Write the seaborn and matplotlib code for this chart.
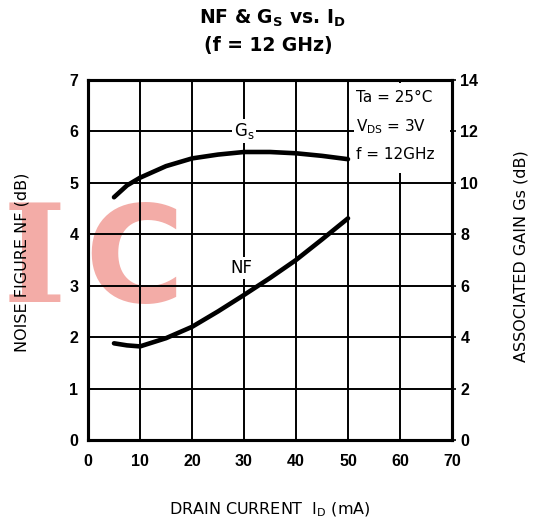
import numpy as np
import pandas as pd
import matplotlib
matplotlib.use("Agg")
import matplotlib.pyplot as plt
import seaborn as sns

# Data (f = 12 GHz)
id_ma = [5, 7.5, 10, 15, 20, 25, 30, 35, 40, 45, 50]
nf_db = [1.88, 1.84, 1.82, 1.98, 2.2, 2.5, 2.82, 3.15, 3.5, 3.9, 4.31]
gs_db = [9.44, 9.9, 10.2, 10.65, 10.95, 11.1, 11.2, 11.2, 11.15, 11.05, 10.92]

x_ticks = [0, 10, 20, 30, 40, 50, 60, 70]
nf_ticks = [0, 1, 2, 3, 4, 5, 6, 7]
gs_ticks = [0, 2, 4, 6, 8, 10, 12, 14]

df = pd.DataFrame({"id": id_ma, "nf": nf_db, "gs": gs_db})

sns.set_style("white")
plt.rcParams["font.family"] = ["Liberation Sans", "DejaVu Sans"]
plt.rcParams["mathtext.fontset"] = "custom"
plt.rcParams["mathtext.rm"] = "DejaVu Sans"
plt.rcParams["mathtext.bf"] = "DejaVu Sans:bold"
for key in ["text.color", "axes.labelcolor", "xtick.color", "ytick.color", "axes.edgecolor"]:
    plt.rcParams[key] = "black"

W, H = 539, 524
fig = plt.figure(figsize=(W / 100, H / 100), dpi=100)
ax = fig.add_axes([88 / W, (H - 440) / H, (452 - 88) / W, 360 / H])
ax.set_facecolor("none")

ax.set_xlim(0, 70)
ax.set_ylim(0, 7)
ax.set_xticks(x_ticks)
ax.set_yticks(nf_ticks)
ax.grid(True, color="black", linewidth=1.4)
for s in ax.spines.values():
    s.set_linewidth(2.2)
    s.set_color("black")
ax.tick_params(axis="x", length=0, labelsize=11.5, pad=10)
ax.tick_params(axis="y", length=0, labelsize=11.5, pad=7)
for lab in ax.get_xticklabels() + ax.get_yticklabels():
    lab.set_fontweight("bold")

ax2 = ax.twinx()
ax2.set_ylim(0, 14)
ax2.set_yticks(gs_ticks)
ax2.tick_params(axis="y", length=3, width=1.2, labelsize=11.5, pad=3)
for lab in ax2.get_yticklabels():
    lab.set_fontweight("bold")
for s in ax2.spines.values():
    s.set_linewidth(2.2)

sns.lineplot(data=df, x="id", y="nf", ax=ax, color="black", linewidth=3.3)
sns.lineplot(data=df, x="id", y="gs", ax=ax2, color="black", linewidth=3.3)
ax.set_xlabel("")
ax.set_ylabel("")
ax2.set_ylabel("")

# curve labels
ax.text(30, 6.0, r"G$_\mathregular{s}$", ha="center", va="center", fontsize=12, family="DejaVu Sans",
        bbox=dict(facecolor="white", edgecolor="none", pad=1.5))
ax.text(29.5, 3.35, "NF", ha="center", va="center", fontsize=12, family="DejaVu Sans",
        bbox=dict(facecolor="white", edgecolor="none", pad=1.5))

# conditions box
ax.add_patch(plt.Rectangle((51.2, 5.2), 18.4, 1.75, facecolor="white", edgecolor="none", zorder=3))
ax.text(51.6, 6.65, "Ta = 25°C", fontsize=11, va="center", zorder=4, family="DejaVu Sans")
ax.text(51.6, 6.1, r"V$_\mathregular{DS}$ = 3V", fontsize=11, va="center", zorder=4, family="DejaVu Sans")
ax.text(51.6, 5.55, "f = 12GHz", fontsize=11, va="center", zorder=4, family="DejaVu Sans")

# titles and axis labels
fig.text(272 / W, 1 - 18 / H, r"NF & G$_\mathbf{S}$ vs. I$_\mathbf{D}$", ha="center", va="center",
         fontsize=13.5, fontweight="bold", family="DejaVu Sans")
fig.text(268 / W, 1 - 45 / H, "(f = 12 GHz)", ha="center", va="center", fontsize=13.5,
         fontweight="bold", family="DejaVu Sans")
fig.text(270 / W, 1 - 510 / H, r"DRAIN CURRENT  I$_\mathregular{D}$ (mA)", ha="center", va="center",
         fontsize=11.5, family="DejaVu Sans")
fig.text(22 / W, 1 - 262 / H, "NOISE FIGURE NF (dB)", rotation=90, ha="center", va="center",
         fontsize=11.5, family="DejaVu Sans")
fig.text(521 / W, 1 - 256 / H, "ASSOCIATED GAIN Gs (dB)", rotation=90, ha="center", va="center",
         fontsize=11.5, family="DejaVu Sans")

# watermark, drawn beneath everything
wm = "#f3aca7"
fig.text(34 / W, 1 - 302 / H, "I", ha="center", va="baseline", fontsize=98, fontweight="bold",
         family="DejaVu Serif", color=wm, zorder=-5)
fig.text(84 / W, 1 - 302 / H, "C", ha="left", va="baseline", fontsize=98, fontweight="bold",
         family="DejaVu Sans", color=wm, zorder=-5)

fig.savefig("out.png", dpi=100)
